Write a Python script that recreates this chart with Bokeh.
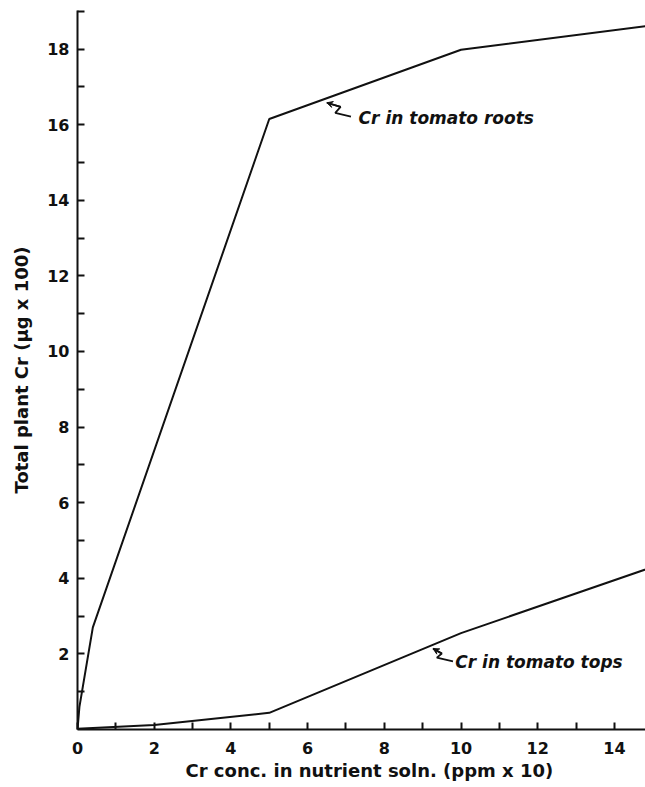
import math
from bokeh.plotting import figure
from bokeh.models import Range1d, FixedTicker, Label, Arrow, VeeHead, Title
from bokeh.embed import file_html
from bokeh.resources import INLINE

# --- data ---
roots_x = [0, 0.05, 0.4, 5, 10, 15]
roots_y = [0, 0.6, 2.7, 16.15, 17.98, 18.63]
tops_x = [0, 2, 5, 10, 15]
tops_y = [0.02, 0.12, 0.44, 2.55, 4.3]

x_major = [0, 2, 4, 6, 8, 10, 12, 14]
x_minor = [1, 3, 5, 7, 9, 11, 13]
y_major = [2, 4, 6, 8, 10, 12, 14, 16, 18]
y_minor = [1, 3, 5, 7, 9, 11, 13, 15, 17, 19]

x_label = "Cr conc. in nutrient soln. (ppm x 10)"
y_label = "Total plant Cr (\u03bcg x 100)"
roots_label = "Cr in tomato roots"
tops_label = "Cr in tomato tops"

# annotation anchor positions (data units)
roots_text_pos = (7.33, 16.18)
tops_text_pos = (9.85, 1.79)
roots_squiggle_x = [6.50, 6.86, 6.72, 7.13]
roots_squiggle_y = [16.58, 16.47, 16.31, 16.21]
tops_squiggle_x = [9.27, 9.50, 9.37, 9.79]
tops_squiggle_y = [2.14, 2.01, 1.90, 1.80]

INK = "#111111"
FONT = "DejaVu Sans"

p = figure(width=645, height=787, output_backend="svg", toolbar_location=None,
           x_range=Range1d(0, 14.81), y_range=Range1d(0, 19.02))
p.min_border_left = 77
p.min_border_right = 0
p.min_border_top = 10
p.min_border_bottom = 58
p.outline_line_color = None
p.xgrid.visible = False
p.ygrid.visible = False
p.background_fill_color = "white"
p.border_fill_color = "white"

for ax, maj, mino in ((p.xaxis[0], x_major, x_minor), (p.yaxis[0], y_major, y_minor)):
    ax.ticker = FixedTicker(ticks=maj, minor_ticks=mino)
    ax.axis_line_width = 2
    ax.axis_line_color = INK
    ax.major_tick_line_width = 2
    ax.minor_tick_line_width = 2
    ax.major_tick_line_color = INK
    ax.minor_tick_line_color = INK
    ax.major_tick_in = 7
    ax.major_tick_out = 0
    ax.minor_tick_in = 7
    ax.minor_tick_out = 0
    ax.major_label_text_font = FONT
    ax.major_label_text_font_size = "16px"
    ax.major_label_text_font_style = "bold"
    ax.major_label_text_color = INK
p.xaxis.major_label_standoff = 12
p.yaxis.major_label_standoff = 8

p.yaxis.axis_label = y_label
p.yaxis.axis_label_text_font = FONT
p.yaxis.axis_label_text_font_size = "18px"
p.yaxis.axis_label_text_font_style = "bold"
p.yaxis.axis_label_text_color = INK
p.yaxis.axis_label_standoff = 12

p.add_layout(Title(text=x_label, align="left", offset=108, text_font=FONT,
                   text_font_size="18px", text_font_style="bold",
                   text_color=INK, standoff=2), "below")

p.line(roots_x, roots_y, line_width=2, line_color=INK)
p.line(tops_x, tops_y, line_width=2, line_color=INK)

# squiggly leader arrows
for sx, sy in ((roots_squiggle_x, roots_squiggle_y), (tops_squiggle_x, tops_squiggle_y)):
    p.line(sx, sy, line_width=1.8, line_color=INK)
    p.add_layout(Arrow(end=VeeHead(size=6, line_color=INK, fill_color=INK, line_width=1),
                       x_start=sx[1], y_start=sy[1], x_end=sx[0], y_end=sy[0],
                       line_width=1.8, line_color=INK))

p.add_layout(Label(x=roots_text_pos[0], y=roots_text_pos[1], text=roots_label,
                   text_font=FONT, text_font_style="bold italic", text_font_size="17px",
                   text_baseline="middle", text_color=INK))
p.add_layout(Label(x=tops_text_pos[0], y=tops_text_pos[1], text=tops_label,
                   text_font=FONT, text_font_style="bold italic", text_font_size="17px",
                   text_baseline="middle", text_color=INK))

open("out.html", "w").write(file_html(p, INLINE))
